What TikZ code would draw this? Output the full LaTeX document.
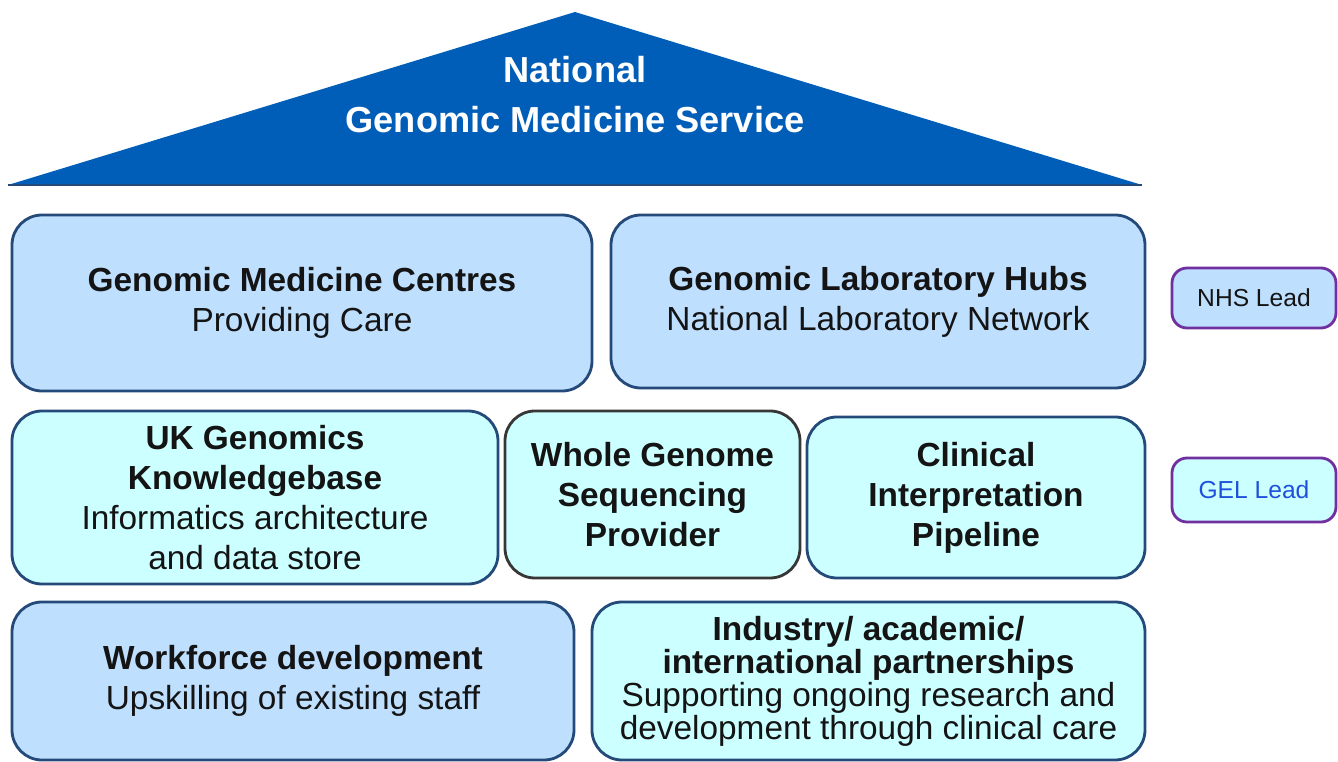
\documentclass[tikz,border=0pt]{standalone}
\usepackage{fontspec}
\setmainfont{Liberation Sans}
\usetikzlibrary{positioning}

\definecolor{nhsblue}{RGB}{0,94,184}
\definecolor{nhsfill}{RGB}{191,223,255}
\definecolor{gelfill}{RGB}{204,255,255}
\definecolor{edgeblue}{RGB}{36,74,122}
\definecolor{edgegrey}{RGB}{55,55,55}
\definecolor{leadedge}{RGB}{112,48,160}
\definecolor{geltext}{RGB}{30,80,220}
\definecolor{boxtext}{RGB}{20,20,20}

\begin{document}
\begin{tikzpicture}[
    block/.style={rectangle, rounded corners=3mm, draw=edgeblue, line width=0.8pt, text=boxtext, align=center, inner sep=0pt, font=\fontsize{9.5}{11.4}\selectfont},
    nhs/.style={block, fill=nhsfill},
    gel/.style={block, fill=gelfill},
    lead/.style={rectangle, rounded corners=1.5mm, draw=leadedge, line width=0.8pt, minimum width=1.64cm, font=\fontsize{7}{8.4}\selectfont}
]
\useasboundingbox (0,0) rectangle (13.38,-7.62);

% roof
\fill[nhsblue] (0.08,-1.85) -- (5.75,-0.12) -- (11.42,-1.85) -- cycle;
\draw[edgeblue, line width=0.6pt] (0.08,-1.85) -- (11.42,-1.85);
\node[text=white, align=center, font=\bfseries\fontsize{10.3}{14.2}\selectfont] (service) at (5.75,-0.95) {National\\Genomic Medicine Service};

% top row
\node[nhs, minimum width=5.80cm, minimum height=1.76cm] (gmc) at (3.02,-3.03) {\textbf{Genomic Medicine Centres}\\Providing Care};
\node[nhs, minimum width=5.34cm, minimum height=1.73cm] (glh) at (8.78,-3.015) {\textbf{Genomic Laboratory Hubs}\\National Laboratory Network};

% middle row
\node[gel, minimum width=4.86cm, minimum height=1.73cm] (ukg) at (2.55,-4.975) {\textbf{UK Genomics}\\\textbf{Knowledgebase}\\Informatics architecture\\and data store};
\node[gel, draw=edgegrey, minimum width=2.95cm, minimum height=1.67cm] (wgs) at (6.525,-4.945) {\textbf{Whole Genome}\\\textbf{Sequencing}\\\textbf{Provider}};
\node[gel, minimum width=3.38cm, minimum height=1.61cm] (cip) at (9.76,-4.975) {\textbf{Clinical}\\\textbf{Interpretation}\\\textbf{Pipeline}};

% bottom row
\node[nhs, minimum width=5.62cm, minimum height=1.58cm] (wfd) at (2.93,-6.81) {\textbf{Workforce development}\\Upskilling of existing staff};
\node[gel, minimum width=5.53cm, minimum height=1.58cm, font=\fontsize{9.5}{9.4}\selectfont] (ind) at (8.685,-6.81) {\textbf{Industry/ academic/}\\\textbf{international partnerships}\\Supporting ongoing research and\\development through clinical care};

% key
\node[lead, fill=nhsfill, text=boxtext, minimum height=0.60cm] (nhslead) at (12.54,-2.98) {NHS Lead};
\node[lead, fill=gelfill, text=geltext, minimum height=0.64cm] (gellead) at (12.54,-4.90) {GEL Lead};

\end{tikzpicture}
\end{document}
